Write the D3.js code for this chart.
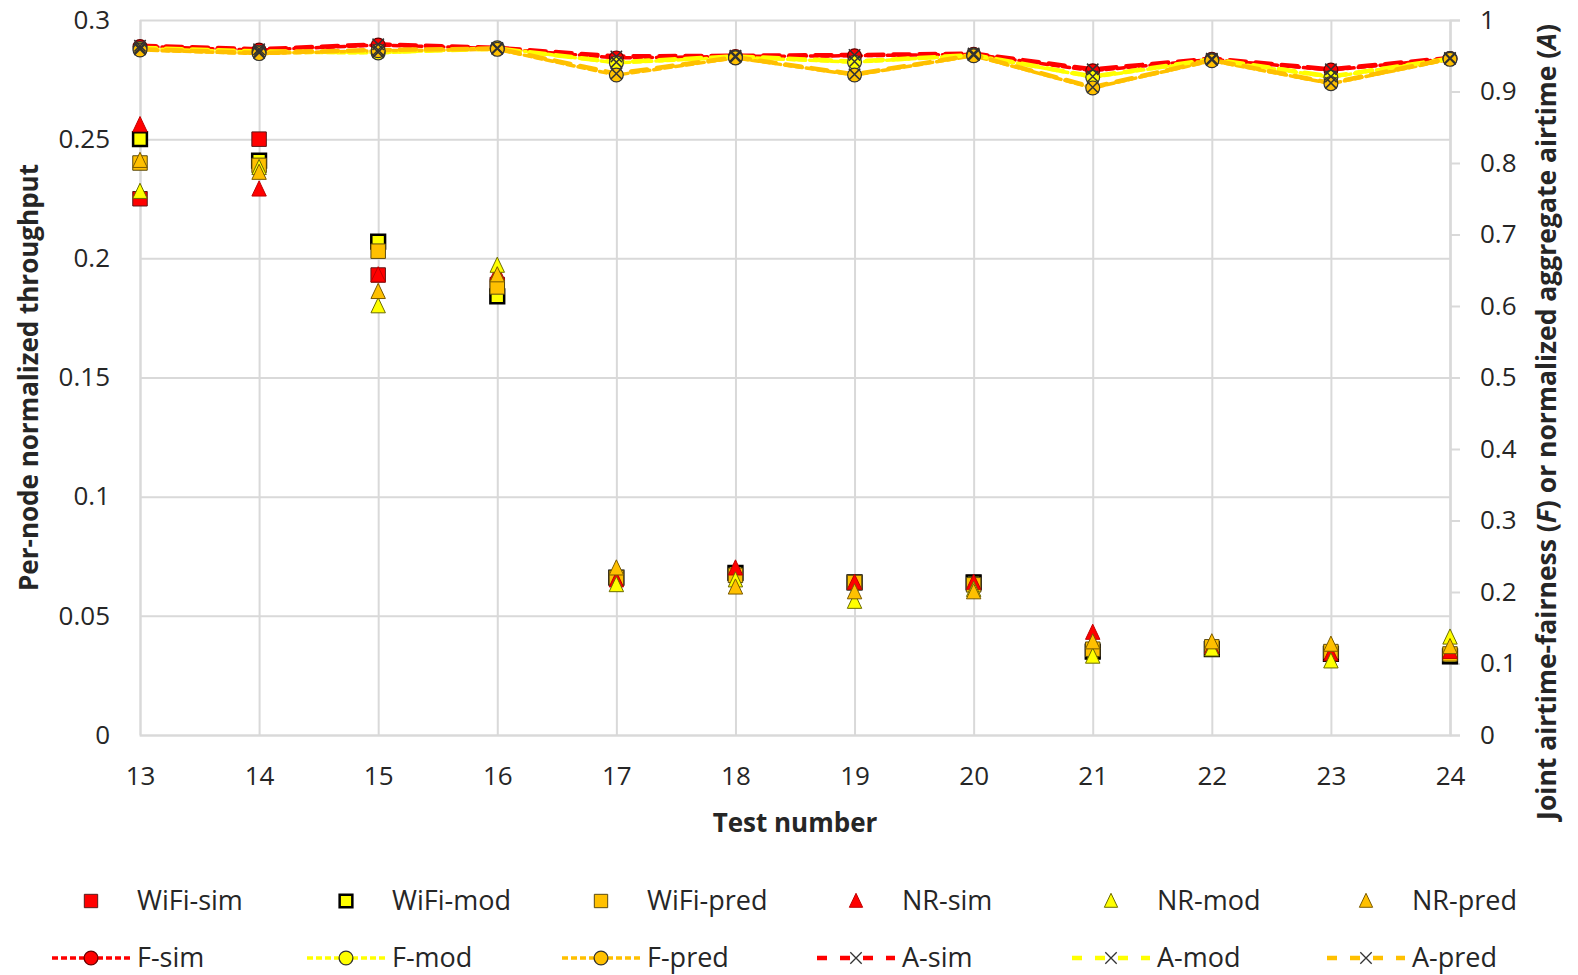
<!DOCTYPE html>
<html>
<head>
<meta charset="utf-8">
<script src="https://cdn.jsdelivr.net/npm/d3@7"></script>
<style>
  body { margin: 0; background: #fff; }
  text { font-family: "Open Sans", "Noto Sans", sans-serif; fill: #262626; }
</style>
</head>
<body>
<svg id="chart"></svg>
<script>
const tests = [13, 14, 15, 16, 17, 18, 19, 20, 21, 22, 23, 24];

// per-node normalized throughput (left axis)
const wifiSim  = [0.225, 0.250, 0.193, 0.189, 0.066, 0.068, 0.064, 0.064, 0.035, 0.036, 0.034, 0.033];
const wifiMod  = [0.250, 0.241, 0.207, 0.184, 0.066, 0.068, 0.064, 0.064, 0.035, 0.036, 0.034, 0.033];
const wifiPred = [0.240, 0.239, 0.203, 0.188, 0.066, 0.067, 0.064, 0.063, 0.036, 0.037, 0.035, 0.034];
const nrSim    = [0.256, 0.229, 0.193, 0.194, 0.065, 0.070, 0.064, 0.064, 0.043, 0.037, 0.034, 0.035];
const nrMod    = [0.228, 0.238, 0.180, 0.197, 0.063, 0.065, 0.056, 0.061, 0.033, 0.036, 0.031, 0.041];
const nrPred   = [0.241, 0.236, 0.186, 0.193, 0.070, 0.062, 0.060, 0.060, 0.039, 0.039, 0.038, 0.037];

// fairness / aggregate airtime (right axis)
const fSim  = [0.963, 0.958, 0.965, 0.960, 0.947, 0.949, 0.950, 0.952, 0.929, 0.945, 0.930, 0.946];
const fMod  = [0.960, 0.955, 0.954, 0.961, 0.940, 0.948, 0.941, 0.951, 0.920, 0.944, 0.920, 0.946];
const fPred = [0.958, 0.953, 0.957, 0.959, 0.923, 0.947, 0.923, 0.950, 0.905, 0.943, 0.911, 0.945];
const aSim  = [0.964, 0.959, 0.966, 0.961, 0.949, 0.950, 0.951, 0.953, 0.931, 0.946, 0.931, 0.947];
const aMod  = [0.961, 0.956, 0.955, 0.960, 0.941, 0.949, 0.942, 0.951, 0.921, 0.945, 0.921, 0.946];
const aPred = [0.959, 0.954, 0.958, 0.960, 0.925, 0.948, 0.924, 0.951, 0.906, 0.944, 0.912, 0.946];

const leftTicks = [0, 0.05, 0.1, 0.15, 0.2, 0.25, 0.3];
const rightTicks = [0, 0.1, 0.2, 0.3, 0.4, 0.5, 0.6, 0.7, 0.8, 0.9, 1];

const RED = "#FF0000", YEL = "#FFFF00", ORA = "#FFC000";

const W = 1578, H = 975;
const margin = { top: 20, right: 128, bottom: 240, left: 140 };
const width = W - margin.left - margin.right;
const height = H - margin.top - margin.bottom;

const svg = d3.select("#chart").attr("width", W).attr("height", H);
const chart = svg.append("g").attr("transform", `translate(${margin.left},${margin.top})`);

const x = d3.scaleLinear().domain([13, 24]).range([0, width]);
const yL = d3.scaleLinear().domain([0, 0.3]).range([height, 0]);
const yR = d3.scaleLinear().domain([0, 1]).range([height, 0]);

// gridlines
chart.append("g")
  .call(d3.axisLeft(yL).tickValues(leftTicks).tickSize(-width).tickFormat(""))
  .call(g => g.select(".domain").remove())
  .call(g => g.selectAll("line").attr("stroke", "#D9D9D9").attr("stroke-width", 2));
chart.append("g")
  .attr("transform", `translate(0,${height})`)
  .call(d3.axisBottom(x).tickValues(tests).tickSize(-height).tickFormat(""))
  .call(g => g.select(".domain").attr("stroke", "#D9D9D9").attr("stroke-width", 2))
  .call(g => g.selectAll("line").attr("stroke", "#D9D9D9").attr("stroke-width", 2));

// left axis labels
chart.append("g")
  .call(d3.axisLeft(yL).tickValues(leftTicks).tickSize(0).tickPadding(30)
    .tickFormat(d => String(+d.toFixed(2))))
  .call(g => g.select(".domain").remove())
  .call(g => g.selectAll("text").style("font-size", "26px").attr("fill", "#262626"));

// bottom axis labels
chart.append("g")
  .attr("transform", `translate(0,${height})`)
  .call(d3.axisBottom(x).tickValues(tests).tickSize(0).tickPadding(32).tickFormat(d3.format("d")))
  .call(g => g.select(".domain").remove())
  .call(g => g.selectAll("text").style("font-size", "26px").attr("fill", "#262626"));

// right axis
chart.append("g")
  .attr("transform", `translate(${width},0)`)
  .call(d3.axisRight(yR).tickValues(rightTicks).tickSize(10).tickPadding(20)
    .tickFormat(d => String(+d.toFixed(1))))
  .call(g => g.select(".domain").attr("stroke", "#D9D9D9").attr("stroke-width", 2))
  .call(g => g.selectAll("line").attr("stroke", "#D9D9D9").attr("stroke-width", 2))
  .call(g => g.selectAll("text").style("font-size", "26px").attr("fill", "#262626"));

// axis titles
svg.append("text")
  .attr("transform", `translate(38,${margin.top + height / 2}) rotate(-90)`)
  .attr("text-anchor", "middle")
  .style("font-size", "26px").style("font-weight", "bold")
  .text("Per-node normalized throughput");

svg.append("text")
  .attr("x", margin.left + width / 2).attr("y", 832)
  .attr("text-anchor", "middle")
  .style("font-size", "26px").style("font-weight", "bold")
  .text("Test number");

const rt = svg.append("text")
  .attr("transform", `translate(1556,422) rotate(-90)`)
  .attr("text-anchor", "middle")
  .style("font-size", "26.5px").style("font-weight", "bold");
rt.append("tspan").text("Joint airtime-fairness (");
rt.append("tspan").style("font-style", "italic").text("F");
rt.append("tspan").text(") or normalized aggregate airtime (");
rt.append("tspan").style("font-style", "italic").text("A");
rt.append("tspan").text(")");

// symbols
const symX = {
  draw(c, size) {
    const r = Math.sqrt(size) / 2;
    c.moveTo(-r, -r); c.lineTo(r, r);
    c.moveTo(r, -r); c.lineTo(-r, r);
  }
};
const symTri = {
  draw(c, size) {
    const r = Math.sqrt(size) / 2;
    c.moveTo(0, -r * 1.1); c.lineTo(r * 0.95, r * 0.9); c.lineTo(-r * 0.95, r * 0.9); c.closePath();
  }
};

const pointSeries = [
  { name: "WiFi-sim",  values: wifiSim,  type: d3.symbolSquare, size: 210, fill: RED, stroke: "#5a1a1a", sw: 1 },
  { name: "WiFi-mod",  values: wifiMod,  type: d3.symbolSquare, size: 190, fill: YEL, stroke: "#000", sw: 2.5 },
  { name: "WiFi-pred", values: wifiPred, type: d3.symbolSquare, size: 210, fill: ORA, stroke: "#5a4a10", sw: 1 },
  { name: "NR-sim",    values: nrSim,    type: symTri, size: 230, fill: RED, stroke: "#c00000", sw: 1 },
  { name: "NR-mod",    values: nrMod,    type: symTri, size: 230, fill: YEL, stroke: "#6b6b00", sw: 1 },
  { name: "NR-pred",   values: nrPred,   type: symTri, size: 230, fill: ORA, stroke: "#7a5a00", sw: 1 }
];

const lineSeries = [
  { name: "F-sim",  values: fSim,  color: RED, dash: "7,4",   sym: d3.symbolCircle, mfill: RED, mstroke: "#600" , lw: 3.5 },
  { name: "F-mod",  values: fMod,  color: YEL, dash: "7,4",   sym: d3.symbolCircle, mfill: YEL, mstroke: "#333", lw: 3.5 },
  { name: "F-pred", values: fPred, color: ORA, dash: "7,4",   sym: d3.symbolCircle, mfill: ORA, mstroke: "#333", lw: 3.5 },
  { name: "A-sim",  values: aSim,  color: RED, dash: "16,10", sym: symX, mfill: "none", mstroke: "#333", lw: 4.5 },
  { name: "A-mod",  values: aMod,  color: YEL, dash: "16,10", sym: symX, mfill: "none", mstroke: "#333", lw: 4.5 },
  { name: "A-pred", values: aPred, color: ORA, dash: "16,10", sym: symX, mfill: "none", mstroke: "#333", lw: 4.5 }
];

pointSeries.forEach(s => {
  chart.append("g").selectAll("path")
    .data(tests.map((t, i) => ({ t, v: s.values[i] })))
    .join("path")
    .attr("transform", d => `translate(${x(d.t)},${yL(d.v)})`)
    .attr("d", d3.symbol(s.type, s.size))
    .attr("fill", s.fill).attr("stroke", s.stroke).attr("stroke-width", s.sw);
});

const line = d3.line().x(d => x(d.t)).y(d => yR(d.v));
lineSeries.forEach(s => {
  const pts = tests.map((t, i) => ({ t, v: s.values[i] }));
  chart.append("path").datum(pts)
    .attr("d", line).attr("fill", "none")
    .attr("stroke", s.color).attr("stroke-width", s.lw)
    .attr("stroke-dasharray", s.dash).attr("stroke-linecap", "round");
});
lineSeries.forEach(s => {
  const pts = tests.map((t, i) => ({ t, v: s.values[i] }));
  chart.append("g").selectAll("path").data(pts).join("path")
    .attr("transform", d => `translate(${x(d.t)},${yR(d.v)})`)
    .attr("d", d3.symbol(s.sym, s.sym === symX ? 130 : 150))
    .attr("fill", s.mfill).attr("stroke", s.mstroke)
    .attr("stroke-width", s.sym === symX ? 1.5 : 1.2);
});

// legend
const legX = d3.scalePoint().domain(d3.range(6)).range([91, 1366]);
const leg1 = svg.append("g");
pointSeries.forEach((s, i) => {
  const g = leg1.append("g").attr("transform", `translate(${legX(i)},901)`);
  g.append("path").attr("d", d3.symbol(s.type, s.size * 0.85))
    .attr("fill", s.fill).attr("stroke", s.stroke).attr("stroke-width", s.sw);
  g.append("text").attr("x", 46).attr("dy", "0.35em")
    .style("font-size", "27px").text(s.name);
});
const leg2 = svg.append("g");
lineSeries.forEach((s, i) => {
  const g = leg2.append("g").attr("transform", `translate(${legX(i)},958)`);
  g.append("line").attr("x1", -39).attr("x2", 39)
    .attr("stroke", s.color).attr("stroke-width", s.lw)
    .attr("stroke-dasharray", s.sym === symX ? "10,13" : "6,3");
  g.append("path").attr("d", d3.symbol(s.sym, s.sym === symX ? 130 : 150))
    .attr("fill", s.mfill).attr("stroke", s.mstroke).attr("stroke-width", 1.3);
  g.append("text").attr("x", 46).attr("dy", "0.35em")
    .style("font-size", "27px").text(s.name);
});
</script>
</body>
</html>
